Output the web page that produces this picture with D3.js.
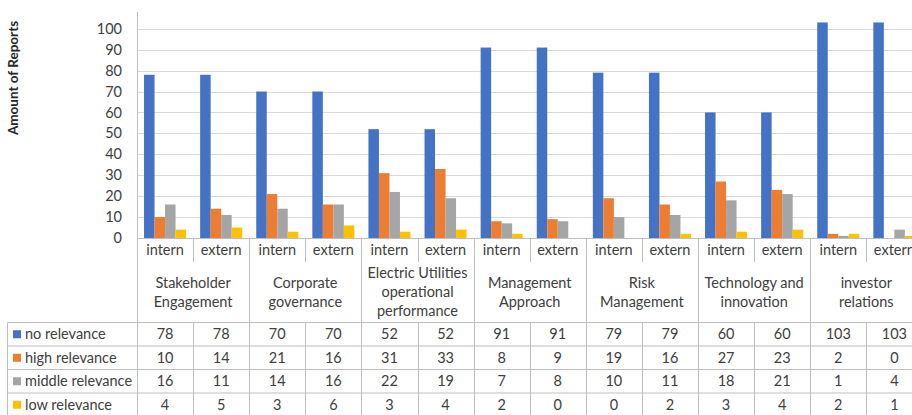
<!DOCTYPE html>
<html>
<head>
<meta charset="utf-8">
<script src="https://cdn.jsdelivr.net/npm/d3@7/dist/d3.min.js"></script>
<style>
  html, body { margin: 0; padding: 0; background: #fff; }
  svg { display: block; font-family: "Lato", "Open Sans", sans-serif; }
</style>
</head>
<body>
<svg id="chart" width="912" height="415"></svg>
<script>
// Topics (each split into an internal and an external view)
const categories = [
  ["Stakeholder", "Engagement"],
  ["Corporate", "governance"],
  ["Electric Utilities", "operational", "performance"],
  ["Management", "Approach"],
  ["Risk", "Management"],
  ["Technology and", "innovation"],
  ["investor", "relations"]
];
const views = ["intern", "extern"];

// Relevance series, one value per topic/view column
const seriesNames = ["no relevance", "high relevance", "middle relevance", "low relevance"];
const noRelevance     = [78, 78, 70, 70, 52, 52, 91, 91, 79, 79, 60, 60, 103, 103];
const highRelevance   = [10, 14, 21, 16, 31, 33, 8, 9, 19, 16, 27, 23, 2, 0];
const middleRelevance = [16, 11, 14, 16, 22, 19, 7, 8, 10, 11, 18, 21, 1, 4];
const lowRelevance    = [4, 5, 3, 6, 3, 4, 2, 0, 0, 2, 3, 4, 2, 1];
const seriesColors = ["#4472C4", "#ED7D31", "#A5A5A5", "#FFC000"];
const yTicks = [0, 10, 20, 30, 40, 50, 60, 70, 80, 90, 100];

const seriesValues = [noRelevance, highRelevance, middleRelevance, lowRelevance];

// Flattened column list: topic index + view
const columns = [];
categories.forEach((c, ci) => views.forEach(v => columns.push({ ci, view: v, key: ci + "-" + v })));

const svg = d3.select("#chart");
const plotLeft = 137, colW = 56.1;
const plotRight = plotLeft + colW * columns.length;
const plotTop = 12, plotBottom = 238;
const tableTop = 322.5, rowH = 23.5, tableLeft = 7.5;
const gridColor = "#d9d9d9", lineColor = "#bfbfbf", textColor = "#404040";

const x = d3.scaleBand().domain(columns.map(d => d.key)).range([plotLeft, plotRight]).padding(0);
const xs = d3.scaleBand().domain(seriesNames).range([0, x.bandwidth()]).paddingInner(0).paddingOuter(0.67);
const y = d3.scaleLinear().domain([0, 108]).range([plotBottom, plotTop]);

// Horizontal gridlines
svg.append("g").selectAll("line").data(yTicks).join("line")
  .attr("x1", plotLeft).attr("x2", plotRight)
  .attr("y1", d => Math.round(y(d)) + 0.5).attr("y2", d => Math.round(y(d)) + 0.5)
  .attr("stroke", gridColor).attr("stroke-width", 1.2);

// Value axis tick labels
svg.append("g").selectAll("text").data(yTicks).join("text")
  .attr("x", 122).attr("y", d => y(d)).attr("dy", "0.35em")
  .attr("text-anchor", "end").attr("font-size", 14.5).attr("fill", textColor)
  .text(d => d);

// Value axis title
svg.append("text")
  .attr("transform", "translate(18,78) rotate(-90)")
  .attr("text-anchor", "middle").attr("font-size", 13.5).attr("font-weight", "bold")
  .attr("fill", "#262626").text("Amount of Reports");

// Bars
const barData = [];
columns.forEach((c, i) => seriesNames.forEach((s, si) => barData.push({ col: c.key, s, si, v: seriesValues[si][i] })));
svg.append("g").selectAll("rect").data(barData.filter(d => d.v > 0)).join("rect")
  .attr("x", d => x(d.col) + xs(d.s))
  .attr("width", xs.bandwidth())
  .attr("y", d => y(d.v))
  .attr("height", d => y(0) - y(d.v))
  .attr("fill", d => seriesColors[d.si]);

// Value axis line and category axis line
svg.append("line").attr("x1", plotLeft + 0.5).attr("x2", plotLeft + 0.5)
  .attr("y1", plotTop).attr("y2", 415).attr("stroke", lineColor);
svg.append("line").attr("x1", plotLeft).attr("x2", plotRight)
  .attr("y1", plotBottom + 0.5).attr("y2", plotBottom + 0.5).attr("stroke", lineColor);

// View labels and separators
svg.append("g").selectAll("text").data(columns).join("text")
  .attr("x", d => x(d.key) + x.bandwidth() / 2).attr("y", 250).attr("dy", "0.35em")
  .attr("text-anchor", "middle").attr("font-size", 14.5).attr("fill", textColor)
  .text(d => d.view);
svg.append("g").selectAll("line").data(columns.filter(d => d.view === "extern")).join("line")
  .attr("x1", d => Math.round(x(d.key)) + 0.5).attr("x2", d => Math.round(x(d.key)) + 0.5)
  .attr("y1", plotBottom).attr("y2", 262).attr("stroke", lineColor);

// Topic labels and separators
const catX = ci => x(ci + "-intern");
svg.append("g").selectAll("line").data(categories.map((c, i) => i).filter(i => i > 0)).join("line")
  .attr("x1", i => Math.round(catX(i)) + 0.5).attr("x2", i => Math.round(catX(i)) + 0.5)
  .attr("y1", plotBottom).attr("y2", 415).attr("stroke", lineColor);
const catLabels = svg.append("g").selectAll("text").data(categories).join("text")
  .attr("text-anchor", "middle").attr("font-size", 14.5).attr("fill", textColor);
catLabels.each(function (lines, ci) {
  const cx = catX(ci) + x.bandwidth();
  const startY = lines.length === 3 ? 273 : 283;
  d3.select(this).selectAll("tspan").data(lines).join("tspan")
    .attr("x", cx).attr("y", (d, j) => startY + j * 19).attr("dy", "0.35em").text(d => d);
});

// Data table
const tableRows = seriesNames.map((s, si) => ({ s, si }));
svg.append("g").selectAll("line").data(d3.range(tableRows.length + 1)).join("line")
  .attr("x1", tableLeft).attr("x2", plotRight)
  .attr("y1", i => tableTop + i * rowH).attr("y2", i => tableTop + i * rowH)
  .attr("stroke", lineColor);
svg.append("line").attr("x1", tableLeft).attr("x2", tableLeft)
  .attr("y1", tableTop).attr("y2", 415).attr("stroke", lineColor);
svg.append("g").selectAll("line").data(columns.filter(d => d.view === "extern")).join("line")
  .attr("x1", d => Math.round(x(d.key)) + 0.5).attr("x2", d => Math.round(x(d.key)) + 0.5)
  .attr("y1", tableTop).attr("y2", 415).attr("stroke", lineColor);

const rowG = svg.append("g").selectAll("g").data(tableRows).join("g")
  .attr("transform", d => `translate(0,${tableTop + d.si * rowH + rowH / 2})`);
rowG.append("rect").attr("x", 13).attr("y", -4).attr("width", 8).attr("height", 8)
  .attr("fill", d => seriesColors[d.si]);
rowG.append("text").attr("x", 25).attr("dy", "0.35em")
  .attr("font-size", 14.5).attr("fill", textColor).text(d => d.s);
rowG.selectAll("text.val").data(d => columns.map((c, i) => ({ c, v: seriesValues[d.si][i] }))).join("text")
  .attr("class", "val")
  .attr("x", d => x(d.c.key) + x.bandwidth() / 2).attr("dy", "0.35em")
  .attr("text-anchor", "middle").attr("font-size", 14.5).attr("fill", textColor)
  .text(d => d.v);
</script>
</body>
</html>
